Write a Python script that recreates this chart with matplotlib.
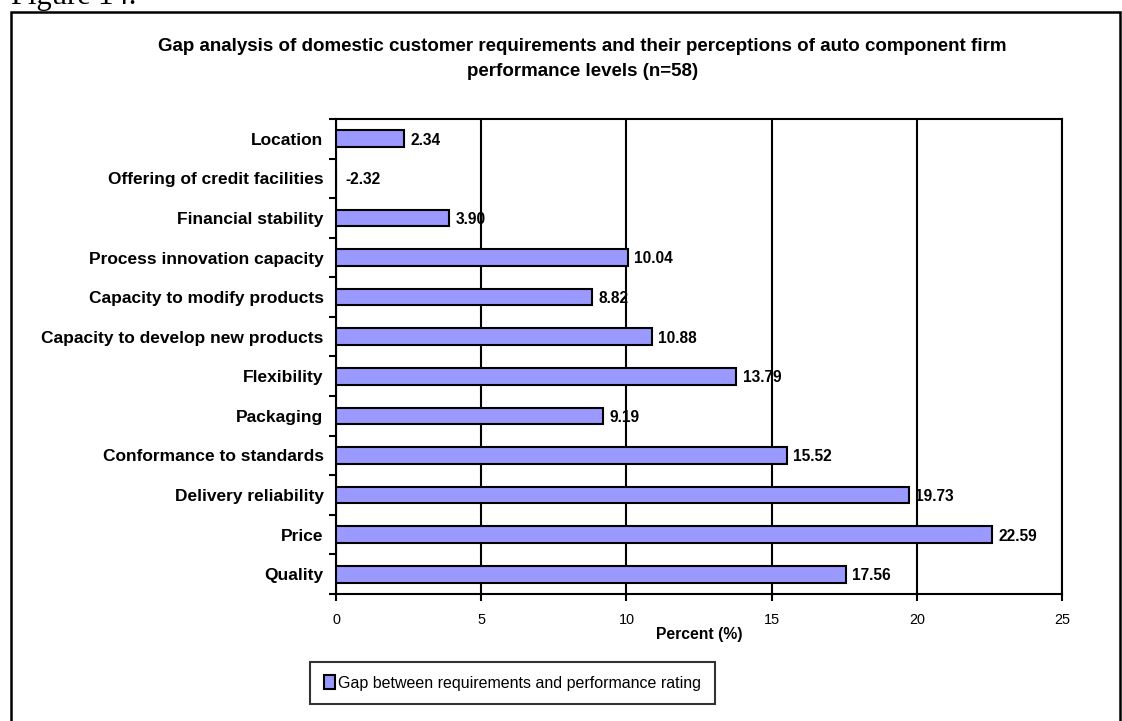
import matplotlib.pyplot as plt
from matplotlib.patches import Rectangle

plt.rcParams['font.family'] = ['Liberation Sans', 'DejaVu Sans']

categories = ["Location", "Offering of credit facilities", "Financial stability",
              "Process innovation capacity", "Capacity to modify products",
              "Capacity to develop new products", "Flexibility", "Packaging",
              "Conformance to standards", "Delivery reliability", "Price", "Quality"]
gap = [2.34, -2.32, 3.90, 10.04, 8.82, 10.88, 13.79, 9.19, 15.52, 19.73, 22.59, 17.56]
xticks = [0, 5, 10, 15, 20, 25]

fig = plt.figure(figsize=(11.22, 7.21), dpi=100)
ax = fig.add_axes([0.2995, 0.1761, 0.6470, 0.6589])

ypos = list(range(len(categories)))
bars = ax.barh(ypos, gap, height=0.42, color="#9999FF", edgecolor="black",
               linewidth=1.5, label="Gap between requirements and performance rating",
               zorder=3)
for y, v in zip(ypos, gap):
    ax.annotate(f"{v:.2f}", xy=(max(v, 0), y), xytext=(4.5 if v > 0 else 7, -1),
                textcoords="offset points", va="center", ha="left",
                fontsize=11.2, fontweight="bold", zorder=4)

ax.set_xlim(0, 25)
ax.set_ylim(len(categories) - 0.5, -0.5)
ax.set_xticks(xticks)
ax.set_xticklabels([str(t) for t in xticks], fontsize=10.4)
ax.set_yticks(ypos)
ax.set_yticklabels(categories, fontsize=12.5, fontweight="bold")
ax.set_yticks([y + 0.5 for y in range(-1, len(categories))], minor=True)
ax.tick_params(axis="y", which="major", length=0, pad=9)
ax.tick_params(axis="y", which="minor", length=5, width=1.5, direction="out")
ax.tick_params(axis="x", length=5, width=1.5, direction="out", pad=9)
ax.xaxis.grid(True, color="black", linewidth=1.5, zorder=0)
for s in ax.spines.values():
    s.set_linewidth(1.5)
ax.set_xlabel("Percent (%)", fontsize=11.3, fontweight="bold", labelpad=0)

fig.text(0.519, 0.918, "Gap analysis of domestic customer requirements and their perceptions of auto component firm\nperformance levels (n=58)",
         ha="center", va="center", fontsize=13.5, fontweight="bold", linespacing=1.62)

leg = fig.legend(handles=[bars], loc="center", bbox_to_anchor=(0.457, 0.0527),
                 fontsize=11.5, frameon=True, fancybox=False, edgecolor="black",
                 handlelength=0.7, handleheight=0.9, handletextpad=0.2,
                 borderpad=0.85, borderaxespad=0)
leg.get_frame().set_linewidth(1.5)

# page frame and caption above it
fig.patches.append(Rectangle((0.0098, -0.01), 0.988, 0.994, transform=fig.transFigure,
                             fill=False, edgecolor="black", linewidth=1.8))
fig.text(0.0098, 0.9945, "Figure 14.", ha="left", va="baseline", fontsize=22,
         family="Liberation Serif")

fig.savefig("out.png", dpi=100)
